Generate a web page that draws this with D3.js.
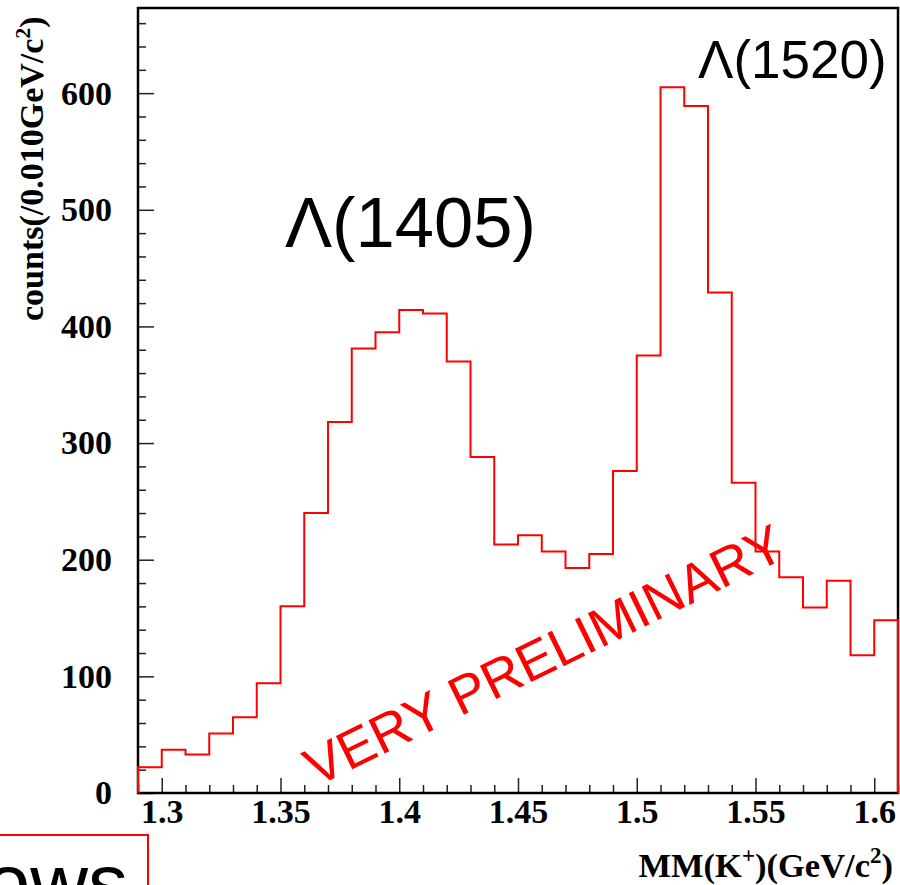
<!DOCTYPE html>
<html>
<head>
<meta charset="utf-8">
<script src="https://cdn.jsdelivr.net/npm/d3@7"></script>
<style>
  html, body { margin: 0; padding: 0; background: #fff; overflow: hidden; }
  svg { display: block; }
</style>
</head>
<body>
<svg id="chart" width="900" height="885"></svg>
<script>
// bin lower edges (GeV/c^2), bin width 0.010
const binStarts = [1.29, 1.30, 1.31, 1.32, 1.33, 1.34, 1.35, 1.36, 1.37, 1.38, 1.39,
  1.40, 1.41, 1.42, 1.43, 1.44, 1.45, 1.46, 1.47, 1.48, 1.49, 1.50, 1.51, 1.52,
  1.53, 1.54, 1.55, 1.56, 1.57, 1.58, 1.59, 1.60];
const binWidth = 0.01;
const counts = [22, 37, 33, 51, 65, 94, 160, 240, 318, 381, 395,
  414, 411, 370, 288, 213, 221, 207, 193, 205, 276, 375, 605, 589,
  429, 266, 207, 185, 159, 182, 118, 148];

const xTicks = [1.3, 1.35, 1.4, 1.45, 1.5, 1.55, 1.6];
const yTicks = [0, 100, 200, 300, 400, 500, 600];

const svg = d3.select('#chart');
const plotL = 138, plotR = 898, plotT = 8, plotB = 793;
const serif = '"Liberation Serif", "Times New Roman", serif';
const sans = '"Liberation Sans", Arial, sans-serif';

const x = d3.scaleLinear().domain([1.29, 1.61]).range([plotL, plotR]);
const y = d3.scaleLinear().domain([0, 673]).range([plotB, plotT]);

// histogram outline, ROOT style
const pts = [[binStarts[0], 0]];
counts.forEach((c, i) => {
  pts.push([binStarts[i], c]);
  pts.push([binStarts[i] + binWidth, c]);
});
pts.push([binStarts[binStarts.length - 1] + binWidth, 0]);

const line = d3.line().x(d => x(d[0])).y(d => y(d[1]));

// minor ticks
const xMinor = d3.range(1.29, 1.6101, 0.01).filter(v => !xTicks.some(t => Math.abs(t - v) < 1e-6));
const yMinor = d3.range(0, 673, 20).filter(v => v % 100 !== 0);

svg.append('g')
  .attr('transform', `translate(0,${plotB})`)
  .call(d3.axisBottom(x).tickValues(xMinor).tickSize(-8).tickFormat(''))
  .call(g => g.select('.domain').remove())
  .selectAll('line').attr('stroke', '#222').attr('stroke-width', 1.5);

svg.append('g')
  .attr('transform', `translate(${plotL},0)`)
  .call(d3.axisLeft(y).tickValues(yMinor).tickSize(-8).tickFormat(''))
  .call(g => g.select('.domain').remove())
  .selectAll('line').attr('stroke', '#222').attr('stroke-width', 1.5);

const xAxis = svg.append('g')
  .attr('transform', `translate(0,${plotB})`)
  .call(d3.axisBottom(x).tickValues(xTicks).tickSize(-15).tickPadding(30).tickFormat(d3.format('')))
  .call(g => g.select('.domain').remove());
xAxis.selectAll('line').attr('stroke', '#222').attr('stroke-width', 1.5);
xAxis.selectAll('text')
  .attr('font-family', serif).attr('font-weight', 'bold').attr('font-size', 34)
  .attr('fill', '#000').attr('dy', 0);

const yAxis = svg.append('g')
  .attr('transform', `translate(${plotL},0)`)
  .call(d3.axisLeft(y).tickValues(yTicks).tickSize(-16).tickPadding(26))
  .call(g => g.select('.domain').remove());
yAxis.selectAll('line').attr('stroke', '#222').attr('stroke-width', 1.5);
yAxis.selectAll('text')
  .attr('font-family', serif).attr('font-weight', 'bold').attr('font-size', 34)
  .attr('fill', '#000');

// frame
svg.append('rect')
  .attr('x', plotL).attr('y', plotT)
  .attr('width', plotR - plotL).attr('height', plotB - plotT)
  .attr('fill', 'none').attr('stroke', '#000').attr('stroke-width', 2.5);

svg.append('path')
  .datum(pts)
  .attr('d', line)
  .attr('fill', 'none')
  .attr('stroke', '#ff0000')
  .attr('stroke-width', 2);

// axis titles
const yt = svg.append('text')
  .attr('transform', 'translate(43,321) rotate(-90)')
  .attr('font-family', serif).attr('font-weight', 'bold').attr('font-size', 34);
yt.append('tspan').text('counts(/0.010GeV/c');
yt.append('tspan').attr('font-size', 22).attr('dy', -13).text('2');
yt.append('tspan').attr('dy', 13).text(')');

const xt = svg.append('text')
  .attr('x', 893).attr('y', 877).attr('text-anchor', 'end')
  .attr('font-family', serif).attr('font-weight', 'bold').attr('font-size', 34.5);
xt.append('tspan').text('MM(K');
xt.append('tspan').attr('font-size', 23).attr('dy', -14).text('+');
xt.append('tspan').attr('dy', 14).text(')(GeV/c');
xt.append('tspan').attr('font-size', 23).attr('dy', -14).text('2');
xt.append('tspan').attr('dy', 14).text(')');

// annotations
svg.append('text')
  .attr('x', 285).attr('y', 247)
  .attr('font-family', sans).attr('font-size', 70.5).attr('fill', '#000')
  .text('Λ(1405)');

svg.append('text')
  .attr('x', 698).attr('y', 78)
  .attr('font-family', sans).attr('font-size', 53).attr('fill', '#000')
  .text('Λ(1520)');

svg.append('text')
  .attr('transform', 'translate(316,787) rotate(-26)')
  .attr('font-family', sans).attr('font-size', 54).attr('fill', '#ff0000')
  .text('VERY PRELIMINARY');

// cut-off box from the slide below
svg.append('rect')
  .attr('x', -3).attr('y', 835).attr('width', 151).attr('height', 80)
  .attr('fill', 'none').attr('stroke', '#ff0000').attr('stroke-width', 2);
svg.append('text')
  .attr('x', 128).attr('y', 910).attr('text-anchor', 'end')
  .attr('font-family', sans).attr('font-size', 80).attr('fill', '#000')
  .text('ows');
</script>
</body>
</html>
